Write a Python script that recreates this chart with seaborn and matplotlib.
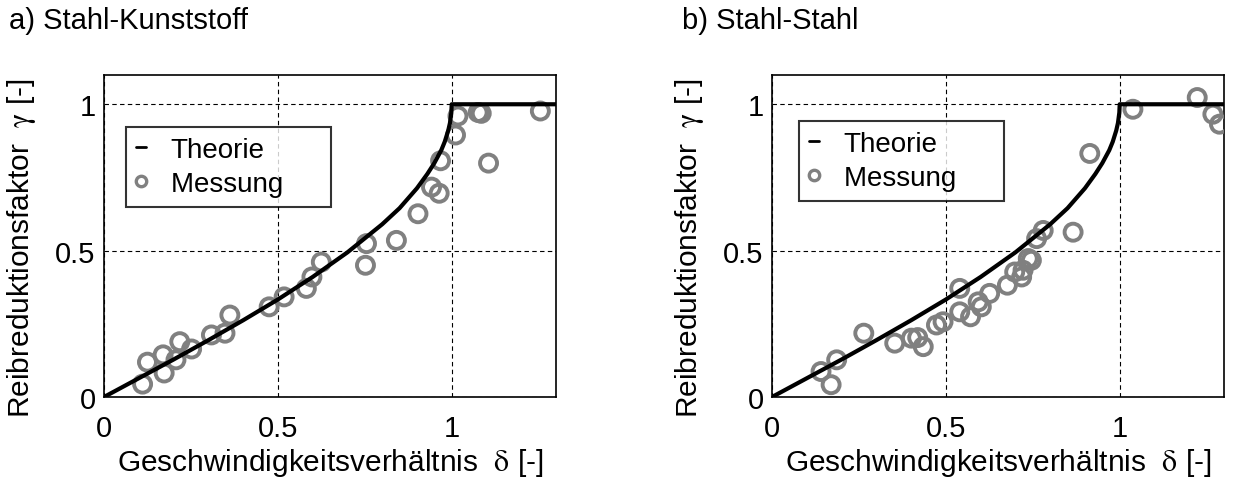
import matplotlib
matplotlib.use("Agg")
import matplotlib.pyplot as plt
import seaborn as sns
import pandas as pd
from matplotlib.lines import Line2D

# Theory curve
theory_delta = [0.0, 0.1, 0.2, 0.3, 0.4, 0.5, 0.6, 0.7, 0.8, 0.85, 0.9, 0.93, 0.95, 0.97,
                0.98, 0.99, 0.995, 0.999, 1.0, 1.3]
theory_gamma = [0.0, 0.064, 0.128, 0.194, 0.262, 0.333, 0.410, 0.494, 0.590, 0.645, 0.713,
                0.762, 0.799, 0.843, 0.872, 0.910, 0.936, 0.972, 1.0, 1.0]

# a) Stahl-Kunststoff measurements
a_delta = [0.111, 0.125, 0.170, 0.173, 0.207, 0.218, 0.252, 0.309, 0.348, 0.362, 0.475, 0.518,
           0.582, 0.598, 0.625, 0.755, 0.752, 0.841, 0.903, 0.942, 0.964, 0.968, 1.011, 1.018,
           1.076, 1.085, 1.106, 1.255]
a_gamma = [0.044, 0.119, 0.144, 0.082, 0.127, 0.189, 0.164, 0.212, 0.218, 0.280, 0.308, 0.342,
           0.371, 0.410, 0.461, 0.524, 0.450, 0.535, 0.626, 0.717, 0.696, 0.807, 0.895, 0.960,
           0.972, 0.969, 0.799, 0.977]

# b) Stahl-Stahl measurements
b_delta = [0.141, 0.170, 0.186, 0.264, 0.353, 0.401, 0.419, 0.435, 0.473, 0.492, 0.540, 0.540,
           0.571, 0.593, 0.602, 0.626, 0.677, 0.698, 0.718, 0.722, 0.746, 0.737, 0.761, 0.780,
           0.866, 0.914, 1.038, 1.223, 1.268, 1.287]
b_gamma = [0.087, 0.042, 0.127, 0.218, 0.184, 0.201, 0.203, 0.172, 0.246, 0.257, 0.371, 0.291,
           0.274, 0.325, 0.308, 0.354, 0.382, 0.427, 0.410, 0.433, 0.467, 0.473, 0.541, 0.569,
           0.563, 0.832, 0.983, 1.023, 0.966, 0.932]

titles = ["a) Stahl-Kunststoff", "b) Stahl-Stahl"]
legend_labels = ["Theorie", "Messung     "]
ticks = [0, 0.5, 1]
tick_labels = ["0", "0.5", "1"]

sns.set_style("white")
plt.rcParams["font.family"] = ["Liberation Sans", "DejaVu Sans"]
plt.rcParams["mathtext.fontset"] = "stix"
plt.rcParams["text.color"] = "black"
plt.rcParams["axes.labelcolor"] = "black"
plt.rcParams["xtick.color"] = "black"
plt.rcParams["ytick.color"] = "black"

fig = plt.figure(figsize=(12.35, 4.81), dpi=100)
axes = [fig.add_axes([104/1235, 83/481, 452/1235, 322/481]),
        fig.add_axes([772/1235, 83/481, 452/1235, 322/481])]

theory = pd.DataFrame({"delta": theory_delta, "gamma": theory_gamma})
datasets = [pd.DataFrame({"delta": a_delta, "gamma": a_gamma}),
            pd.DataFrame({"delta": b_delta, "gamma": b_gamma})]
legend_pos = [(0.049, 0.839), (0.060, 0.857)]
title_x = [9/1235, 682/1235]

for i, ax in enumerate(axes):
    ax.set_xlim(0, 1.3)
    ax.set_ylim(0, 1.1)
    ax.set_xticks(ticks)
    ax.set_xticklabels(tick_labels)
    ax.set_yticks(ticks)
    ax.set_yticklabels(tick_labels)
    ax.tick_params(axis="x", length=0, labelsize=21, pad=12, labelcolor="black")
    ax.tick_params(axis="y", length=0, labelsize=21, pad=6, labelcolor="black")
    ax.grid(True, color="black", linestyle=(0, (4, 3)), linewidth=0.8)
    ax.set_axisbelow(True)
    for s in ax.spines.values():
        s.set_color("black")
        s.set_linewidth(1.2)
    sns.scatterplot(data=datasets[i], x="delta", y="gamma", ax=ax, marker="o",
                    s=150, facecolors="none", edgecolor="#808080", linewidth=2.8,
                    zorder=3, legend=False)
    sns.lineplot(data=theory, x="delta", y="gamma", ax=ax, color="black",
                 linewidth=3, zorder=4, legend=False)
    ax.set_xlabel(r"Geschwindigkeitsverhältnis  $\mathrm{\delta}$ [-]", fontsize=21.5,
                  color="black")
    ax.set_ylabel(r"Reibreduktionsfaktor  $\mathrm{\gamma}$ [-]", fontsize=21.5,
                  color="black")
    ax.xaxis.set_label_coords(0.5, -83/322 + 2/322, transform=ax.transAxes)
    ax.xaxis.label.set_va("bottom")
    ax.yaxis.set_label_coords(-82/452, 0.465, transform=ax.transAxes)
    ax.yaxis.label.set_va("center")
    handles = [Line2D([0], [0], color="black", linewidth=2),
               Line2D([0], [0], marker="o", linestyle="none", markerfacecolor="none",
                      markeredgecolor="#808080", markeredgewidth=2.4, markersize=7.5)]
    leg = ax.legend(handles, legend_labels, loc="upper left",
                    bbox_to_anchor=legend_pos[i], fontsize=20, frameon=True,
                    fancybox=False, edgecolor="black", handlelength=0.35,
                    handletextpad=0.9, borderpad=0.35, labelspacing=0.3,
                    borderaxespad=0)
    leg.get_frame().set_linewidth(1.5)
    leg.set_zorder(5)
    for t in leg.get_texts():
        t.set_color("black")
    fig.text(title_x[i], 1 - 21/481, titles[i], fontsize=21, ha="left", va="center",
             color="black")

fig.savefig("out.png", dpi=100)
